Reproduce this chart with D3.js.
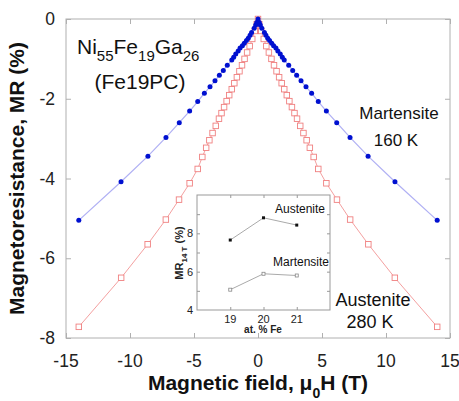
<!DOCTYPE html>
<html>
<head>
<meta charset="utf-8">
<script src="https://cdn.jsdelivr.net/npm/d3@7"></script>
<style>
  body { margin: 0; background: #fff; }
  svg { font-family: Arial, "Liberation Sans", sans-serif; }
</style>
</head>
<body>
<script>
// Martensite 160 K (blue, filled circles) - field in T, MR in %
var martField = [0, 0.1, 0.18, 0.3, 0.5, 0.62, 0.76, 0.9, 1.07, 1.22, 1.4, 1.55, 1.74, 1.9, 2.05, 2.4, 2.71, 3.02, 3.36, 3.75, 4.19, 4.71, 5.34, 6.15, 7.19, 8.6, 10.7, 14.0]
var martMR    = [0, -0.09, -0.15, -0.23, -0.34, -0.41, -0.48, -0.54, -0.61, -0.67, -0.73, -0.8, -0.88, -0.96, -1.03, -1.16, -1.29, -1.41, -1.55, -1.7, -1.86, -2.07, -2.31, -2.6, -2.97, -3.44, -4.08, -5.05]

// Austenite 280 K (red, open squares)
var austField = [0, 0.1, 0.25, 0.45, 0.65, 0.85, 1.05, 1.25, 1.45, 1.65, 1.85, 2.05, 2.25, 2.45, 2.65, 2.85, 3.05, 3.3, 3.55, 3.8, 4.05, 4.35, 4.71, 5.34, 6.17, 7.2, 8.62, 10.69, 14.0]
var austMR    = [0, -0.13, -0.3, -0.5, -0.68, -0.84, -1.0, -1.16, -1.31, -1.46, -1.61, -1.76, -1.91, -2.06, -2.21, -2.36, -2.5, -2.68, -2.86, -3.04, -3.23, -3.46, -3.76, -4.12, -4.53, -5.03, -5.65, -6.49, -7.72]

// inset: MR at 14 T vs at.% Fe
var insetFe = [19, 20, 21]
var insetAust = [7.65, 8.81, 8.43]
var insetMart = [5.06, 5.89, 5.8]

var xTicks = [-15, -10, -5, 0, 5, 10, 15]
var yTicks = [0, -2, -4, -6, -8]

var width = 459, height = 401
var margin = {top: 19, right: 9, bottom: 63, left: 66}

var svg = d3.select("body").append("svg")
    .attr("width", width)
    .attr("height", height)

var x = d3.scaleLinear().domain([-15, 15]).range([margin.left, width - margin.right])
var y = d3.scaleLinear().domain([0, -8]).range([margin.top, height - margin.bottom])

// mirror the positive-field readings to the negative side
function sym(f, m) {
  var pts = []
  for (var i = f.length - 1; i > 0; i--) pts.push([-f[i], m[i]])
  for (var j = 0; j < f.length; j++) pts.push([f[j], m[j]])
  return pts
}
var mart = sym(martField, martMR)
var aust = sym(austField, austMR)

var frameCol = "#b0b0b0"

// ticks (inward, all four sides)
var tickLen = 5
var gAx = svg.append("g")
gAx.append("g").attr("transform", `translate(0,${y(-8)})`)
  .call(d3.axisBottom(x).tickValues(xTicks).tickSize(-tickLen).tickSizeOuter(0).tickFormat(""))
gAx.append("g").attr("transform", `translate(0,${y(0)})`)
  .call(d3.axisTop(x).tickValues(xTicks).tickSize(-tickLen).tickSizeOuter(0).tickFormat(""))
gAx.append("g").attr("transform", `translate(${x(-15)},0)`)
  .call(d3.axisLeft(y).tickValues(yTicks).tickSize(-tickLen).tickSizeOuter(0).tickFormat(""))
gAx.append("g").attr("transform", `translate(${x(15)},0)`)
  .call(d3.axisRight(y).tickValues(yTicks).tickSize(-tickLen).tickSizeOuter(0).tickFormat(""))
gAx.selectAll("path").remove()
gAx.selectAll("line").attr("stroke", frameCol)

svg.append("rect")
  .attr("x", x(-15)).attr("y", y(0))
  .attr("width", x(15) - x(-15)).attr("height", y(-8) - y(0))
  .attr("fill", "none").attr("stroke", frameCol)

// tick labels
svg.selectAll(".xl").data(xTicks).enter().append("text")
  .attr("x", d => x(d)).attr("y", 367)
  .attr("text-anchor", "middle").attr("font-size", 17.5).attr("fill", "#222")
  .text(d => d)
svg.selectAll(".yl").data(yTicks).enter().append("text")
  .attr("x", 55).attr("y", d => y(d) + 6)
  .attr("text-anchor", "end").attr("font-size", 17.5).attr("fill", "#222")
  .text(d => d)

// axis titles
var xt = svg.append("text").attr("x", 258).attr("y", 390)
  .attr("text-anchor", "middle").attr("font-size", 21).attr("font-weight", "bold").attr("fill", "#111")
xt.append("tspan").text("Magnetic field, \u03bc")
xt.append("tspan").attr("font-size", 14).attr("dy", 8).text("0")
xt.append("tspan").attr("dy", -8).text("H (T)")

svg.append("text")
  .attr("transform", `translate(24,${(y(0) + y(-8)) / 2}) rotate(-90)`)
  .attr("text-anchor", "middle").attr("font-size", 21).attr("font-weight", "bold").attr("fill", "#111")
  .text("Magnetoresistance, MR (%)")

// lines
var line = d3.line().x(d => x(d[0])).y(d => y(d[1]))
svg.append("path").datum(aust).attr("d", line)
  .attr("fill", "none").attr("stroke", "#f4a0a0").attr("stroke-width", 1)
svg.append("path").datum(mart).attr("d", line)
  .attr("fill", "none").attr("stroke", "#b0b0f4").attr("stroke-width", 1.2)

// markers
svg.selectAll(".sq").data(aust).enter().append("rect")
  .attr("x", d => x(d[0]) - 2.75).attr("y", d => y(d[1]) - 2.75)
  .attr("width", 5.5).attr("height", 5.5)
  .attr("fill", "#fff").attr("stroke", "#f08080").attr("stroke-width", 0.9)
svg.selectAll(".ci").data(mart).enter().append("circle")
  .attr("cx", d => x(d[0])).attr("cy", d => y(d[1]))
  .attr("r", 2.5).attr("fill", "#0010d0")

// annotations
var t1 = svg.append("text").attr("x", 77).attr("y", 54).attr("font-size", 21).attr("fill", "#111")
t1.append("tspan").text("Ni")
t1.append("tspan").attr("font-size", 15).attr("dy", 7).text("55")
t1.append("tspan").attr("dy", -7).text("Fe")
t1.append("tspan").attr("font-size", 15).attr("dy", 7).text("19")
t1.append("tspan").attr("dy", -7).text("Ga")
t1.append("tspan").attr("font-size", 15).attr("dy", 7).text("26")
svg.append("text").attr("x", 140).attr("y", 89).attr("text-anchor", "middle")
  .attr("font-size", 21).attr("fill", "#111").text("(Fe19PC)")

svg.append("text").attr("x", 399).attr("y", 119).attr("text-anchor", "middle")
  .attr("font-size", 17).attr("fill", "#111").text("Martensite")
svg.append("text").attr("x", 396).attr("y", 146).attr("text-anchor", "middle")
  .attr("font-size", 17).attr("fill", "#111").text("160 K")
svg.append("text").attr("x", 373).attr("y", 306).attr("text-anchor", "middle")
  .attr("font-size", 18).attr("fill", "#111").text("Austenite")
svg.append("text").attr("x", 370).attr("y", 328).attr("text-anchor", "middle")
  .attr("font-size", 18).attr("fill", "#111").text("280 K")

// ---------- inset ----------
var ix = d3.scaleLinear().domain([18, 22]).range([197, 330])
var iy = d3.scaleLinear().domain([4, 10]).range([310, 195])
var inset = svg.append("g")
inset.append("rect").attr("x", 197).attr("y", 195).attr("width", 133).attr("height", 115)
  .attr("fill", "#fff").attr("stroke", "#999")

var ig = inset.append("g")
var ixt = [19, 20, 21], iyt = [5, 6, 7, 8, 9]
ig.append("g").attr("transform", "translate(0,310)")
  .call(d3.axisBottom(ix).tickValues(ixt).tickSize(-3).tickFormat(""))
ig.append("g").attr("transform", "translate(0,195)")
  .call(d3.axisTop(ix).tickValues(ixt).tickSize(-3).tickFormat(""))
ig.append("g").attr("transform", "translate(197,0)")
  .call(d3.axisLeft(iy).tickValues(iyt).tickSize(-3).tickFormat(""))
ig.append("g").attr("transform", "translate(330,0)")
  .call(d3.axisRight(iy).tickValues(iyt).tickSize(-3).tickFormat(""))
ig.selectAll("path").remove()
ig.selectAll("line").attr("stroke", "#999")

inset.selectAll(".ixl").data(ixt).enter().append("text")
  .attr("x", d => ix(d)).attr("y", 323).attr("text-anchor", "middle")
  .attr("font-size", 11).attr("fill", "#222").text(d => d)
inset.selectAll(".iyl").data([4, 6, 8]).enter().append("text")
  .attr("x", 193).attr("y", d => iy(d) + 4).attr("text-anchor", "end")
  .attr("font-size", 11).attr("fill", "#222").text(d => d)
inset.append("text").attr("x", 263).attr("y", 333).attr("text-anchor", "middle")
  .attr("font-size", 10).attr("font-weight", "bold").attr("fill", "#222").text("at. % Fe")
var iyl = inset.append("text")
  .attr("transform", "translate(183,253) rotate(-90)").attr("text-anchor", "middle")
  .attr("font-size", 11).attr("font-weight", "bold").attr("fill", "#222")
iyl.append("tspan").text("MR")
iyl.append("tspan").attr("font-size", 8).attr("dy", 4).text("14 T")
iyl.append("tspan").attr("dy", -4).text(" (%)")

var aPts = insetFe.map((d, i) => [d, insetAust[i]])
var mPts = insetFe.map((d, i) => [d, insetMart[i]])
var iline = d3.line().x(d => ix(d[0])).y(d => iy(d[1]))
inset.append("path").datum(aPts).attr("d", iline).attr("fill", "none").attr("stroke", "#aaa")
inset.append("path").datum(mPts).attr("d", iline).attr("fill", "none").attr("stroke", "#aaa")
inset.selectAll(".ia").data(aPts).enter().append("rect")
  .attr("x", d => ix(d[0]) - 1.5).attr("y", d => iy(d[1]) - 1.5)
  .attr("width", 3).attr("height", 3).attr("fill", "#111")
inset.selectAll(".im").data(mPts).enter().append("rect")
  .attr("x", d => ix(d[0]) - 1.5).attr("y", d => iy(d[1]) - 1.5)
  .attr("width", 3).attr("height", 3).attr("fill", "#fff").attr("stroke", "#888").attr("stroke-width", 0.8)

inset.append("text").attr("x", 275).attr("y", 213).attr("font-size", 12).attr("fill", "#111").text("Austenite")
inset.append("text").attr("x", 273).attr("y", 266).attr("font-size", 12).attr("fill", "#111").text("Martensite")
</script>
</body>
</html>
